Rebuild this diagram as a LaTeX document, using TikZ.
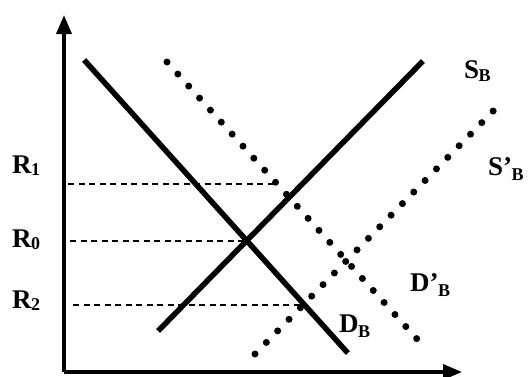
\documentclass[tikz,border=0pt]{standalone}
\usepackage{fontspec}
\setmainfont{Liberation Serif}
\usetikzlibrary{arrows.meta}
\newcommand\lowsub[2]{\kern-0.5pt\raisebox{-#1}{\fontsize{18}{18}\selectfont #2}}
\begin{document}
\begin{tikzpicture}[x=1pt,y=-1pt,
  axis/.style={line width=3.6pt,-{Triangle[length=19pt,width=15pt]}},
  curve/.style={line width=5.5pt},
  dotcurve/.style={line width=7pt,line cap=round,dash pattern=on 0pt off 16.2pt},
  guide/.style={line width=1.1pt,dash pattern=on 6pt off 4.5pt},
  lbl/.style={font=\bfseries\fontsize{27}{27}\selectfont,inner sep=0pt,anchor=base west}]
\useasboundingbox (0,0) rectangle (529,376);
% axes
\coordinate (O) at (64,372);
\coordinate (ytip) at (64,15);
\coordinate (xtip) at (462,372);
\draw[axis] (O) -- (ytip);
\draw[axis] (O) -- (xtip);
% curves
\coordinate (d1) at (86,62);
\coordinate (d2) at (346,351);
\coordinate (s1) at (160,329);
\coordinate (s2) at (421,63);
\coordinate (dp1) at (167,62);
\coordinate (dp2) at (427,350);
\coordinate (sp1) at (255,354);
\coordinate (sp2) at (503,101);
\draw[curve,line cap=rect] (d1) -- (d2);
\draw[curve,line cap=rect] (s1) -- (s2);
\draw[dotcurve] (dp1) -- (dp2);
\draw[dotcurve] (sp1) -- (sp2);
% guides
\coordinate (g1a) at (68,184); \coordinate (g1b) at (275,184);
\coordinate (g0a) at (70,241); \coordinate (g0b) at (245,241);
\coordinate (g2a) at (73,305); \coordinate (g2b) at (300,305);
\draw[guide] (g1a) -- (g1b);
\draw[guide] (g0a) -- (g0b);
\draw[guide] (g2a) -- (g2b);
% labels
\node[lbl] (r1) at (12,173) {R\lowsub{2pt}{1}};
\node[lbl] (r0) at (12,247) {R\lowsub{2pt}{0}};
\node[lbl] (r2) at (12,308) {R\lowsub{2pt}{2}};
\node[lbl] (sb) at (464,78) {S\lowsub{3pt}{B}};
\node[lbl] (spb) at (488,175) {S’\lowsub{5pt}{B}};
\node[lbl] (dpb) at (410,291) {D’\lowsub{5pt}{B}};
\node[lbl] (db) at (339,332) {D\lowsub{5pt}{B}};
\end{tikzpicture}
\end{document}
